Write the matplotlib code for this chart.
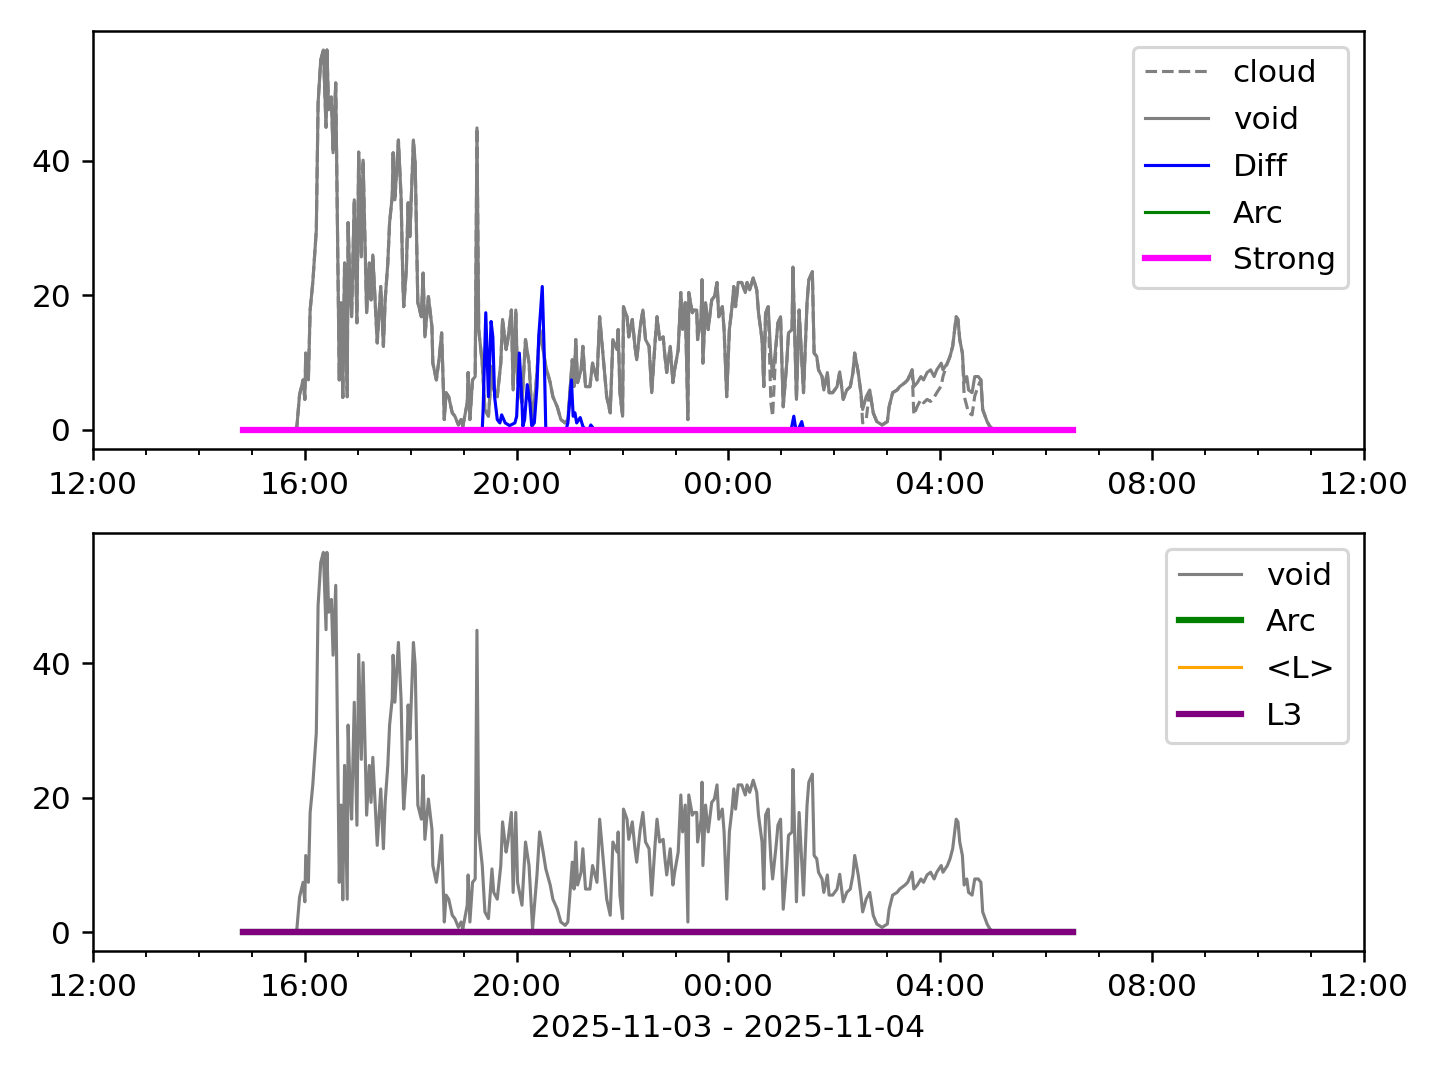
import pandas as pd
import matplotlib
matplotlib.use('Agg')
import matplotlib.pyplot as plt
import matplotlib.dates as mdates

# void signal (time of day, value); times before noon belong to the next day
void_t = ["14:50", "15:49", "15:51", "15:54", "15:58", "16:00", "16:01", "16:04", "16:06", "16:09",
          "16:13", "16:15", "16:18", "16:21", "16:24", "16:25", "16:27", "16:30", "16:32", "16:35",
          "16:36", "16:39", "16:41", "16:43", "16:45", "16:48", "16:49", "16:51", "16:53", "16:56",
          "16:59", "17:01", "17:04", "17:06", "17:10", "17:13", "17:15", "17:17", "17:22", "17:26",
          "17:29", "17:31", "17:34", "17:36", "17:39", "17:40", "17:42", "17:46", "17:49", "17:51",
          "17:52", "17:55", "17:57", "17:59", "18:03", "18:05", "18:08", "18:12", "18:14", "18:16",
          "18:20", "18:24", "18:25", "18:29", "18:32", "18:35", "18:38", "18:40", "18:43", "18:47",
          "18:50", "18:54", "18:57", "18:59", "19:04", "19:05", "19:07", "19:10", "19:13", "19:15",
          "19:17", "19:21", "19:24", "19:28", "19:32", "19:34", "19:38", "19:42", "19:44", "19:48",
          "19:50", "19:54", "19:56", "19:59", "20:01", "20:06", "20:10", "20:14", "20:18", "20:23",
          "20:26", "20:30", "20:33", "20:38", "20:41", "20:46", "20:50", "20:55", "20:58", "21:03",
          "21:05", "21:07", "21:09", "21:13", "21:15", "21:18", "21:23", "21:26", "21:31", "21:34",
          "21:38", "21:42", "21:46", "21:49", "21:54", "21:55", "21:57", "22:00", "22:01", "22:05",
          "22:07", "22:11", "22:14", "22:16", "22:20", "22:23", "22:26", "22:30", "22:33", "22:37",
          "22:39", "22:42", "22:46", "22:48", "22:50", "22:54", "22:57", "22:59", "23:03", "23:06",
          "23:08", "23:11", "23:14", "23:15", "23:19", "23:21", "23:24", "23:25", "23:29", "23:30",
          "23:31", "23:34", "23:37", "23:41", "23:44", "23:47", "23:49", "23:53", "23:55", "23:58",
          "00:01", "00:04", "00:06", "00:08", "00:11", "00:15", "00:19", "00:21", "00:24", "00:28",
          "00:32", "00:34", "00:38", "00:40", "00:42", "00:45", "00:48", "00:50", "00:54", "00:56",
          "00:59", "01:02", "01:06", "01:08", "01:12", "01:13", "01:17", "01:20", "01:23", "01:25",
          "01:29", "01:31", "01:35", "01:37", "01:40", "01:42", "01:46", "01:48", "01:52", "01:54",
          "01:58", "02:03", "02:06", "02:10", "02:14", "02:18", "02:21", "02:23", "02:27", "02:30",
          "02:32", "02:36", "02:40", "02:44", "02:48", "02:54", "03:00", "03:02", "03:06", "03:11",
          "03:14", "03:20", "03:23", "03:28", "03:30", "03:34", "03:38", "03:41", "03:45", "03:49",
          "03:53", "03:56", "04:01", "04:03", "04:08", "04:11", "04:14", "04:18", "04:20", "04:22",
          "04:25", "04:27", "04:30", "04:32", "04:36", "04:39", "04:43", "04:46", "04:48", "04:53",
          "04:56", "05:00", "06:30"]
void_v = [0, 0, 0.5, 5.2, 7.4, 4.5, 11.4, 7.4, 17.8, 21.9,
          29.7, 48.6, 55, 56.5, 45, 56.5, 47.6, 49.5, 41.2, 51.6,
          40.6, 7.4, 18.9, 4.8, 24.8, 4.9, 30.8, 21.9, 16.8, 34.2,
          15.9, 41.3, 25.7, 40.1, 17.4, 24.8, 19.3, 26, 12.9, 21.3,
          12.4, 19.3, 24.8, 30.8, 34.7, 41.2, 34.2, 43.1, 34.7, 22.3,
          18.3, 23.8, 33.8, 28.7, 43.1, 39.7, 18.9, 16.8, 23.3, 13.8,
          19.8, 15.3, 9.9, 7.4, 10.4, 14.4, 1.5, 5.5, 4.9, 2.5,
          2, 0.7, 1.5, 0.5, 4, 8.5, 1.5, 7.4, 7.9, 44.9,
          14.9, 9.9, 3, 2, 9.4, 5.9, 4.9, 9.9, 16.4, 11.9,
          13.4, 17.8, 5.9, 17.8, 7.4, 4, 13.4, 9.9, 0.5, 8.5,
          14.9, 11.9, 9.4, 7, 4.9, 3.4, 1.5, 1, 1.5, 10.4,
          6.4, 13.4, 7, 8.9, 12.4, 6.4, 6.4, 9.9, 7.4, 16.8,
          10.9, 4.9, 2.5, 13.4, 11.9, 14.9, 5.5, 2, 18.3, 16.8,
          13.8, 16.4, 12.4, 10.4, 15.3, 17.8, 13.4, 12.4, 5.5, 13.4,
          16.8, 13.4, 13.8, 10.9, 8.5, 12.4, 7, 8.9, 11.9, 20.4,
          14.9, 18.9, 1.5, 20.4, 17.4, 17.8, 17.8, 13.4, 16.8, 22.3,
          9.9, 18.9, 14.9, 19.3, 19.8, 21.9, 16.8, 18.3, 14.9, 4.9,
          14.9, 18.3, 21.3, 18.3, 21.9, 21.9, 20.4, 21.9, 20.8, 22.6,
          20.8, 17.4, 13.4, 6.4, 17.4, 18.3, 10.9, 7.9, 12.9, 15.9,
          16.8, 3.4, 9.9, 14.4, 14.9, 24.2, 4.5, 17.8, 10.4, 5.5,
          18.9, 22.3, 23.5, 11.4, 10.9, 8.9, 7.9, 5.9, 8.5, 5.5,
          5.5, 6.4, 8.6, 4.5, 5.9, 6.4, 8.5, 11.4, 8.5, 5.5,
          3, 4.9, 5.9, 2.5, 1.2, 0.7, 1.2, 3.4, 5.5, 5.9,
          6.4, 7, 7.4, 8.9, 6.4, 7, 7.9, 7.4, 8.5, 8.9,
          7.9, 8.9, 9.9, 8.9, 9.9, 10.9, 12.4, 16.8, 16.4, 13.4,
          11.4, 7, 7.9, 5.9, 5.5, 7.9, 7.9, 7.4, 3, 1.2,
          0.5, 0, 0]

# cloud follows void except at these times
cloud_diff_t = ["00:48", "00:50", "02:32", "02:36", "03:30", "03:34", "03:38", "03:41", "03:45",
                "03:49", "03:53", "03:56", "04:01", "04:03", "04:27", "04:30", "04:32", "04:36",
                "04:39", "04:43"]
cloud_diff_v = [4, 2, 1, 1.5, 2.2, 3.5, 4.5, 4, 4.5,
                4.2, 4.8, 5.5, 6.5, 7.9, 5, 3.5, 2.5, 2.2,
                5, 6.5]

diff_t = ["14:50", "19:21", "19:22", "19:25", "19:28", "19:31", "19:33", "19:35", "19:38", "19:41",
          "19:43", "19:47", "19:52", "19:58", "20:00", "20:03", "20:06", "20:07", "20:09", "20:12",
          "20:15", "20:17", "20:20", "20:23", "20:25", "20:29", "20:31", "20:33", "20:56", "20:58",
          "21:02", "21:04", "21:06", "21:08", "21:12", "21:15", "21:18", "21:22", "21:24", "21:28",
          "01:11", "01:14", "01:16", "01:19", "01:23", "01:25", "06:30"]
diff_v = [0, 0, 3, 17.4, 4.9, 16.1, 13.8, 4.9, 1.5, 1,
          2.2, 1, 0.6, 1, 2, 11.4, 4, 0.5, 1.5, 6.7,
          4, 0.6, 1, 6.4, 13.8, 21.3, 12.4, 0, 0, 1,
          7.4, 2, 2.5, 1, 1.8, 0.5, 0, 0, 0.7, 0,
          0, 2, 0.3, 0, 1.2, 0, 0]

flat_t = ["14:50", "06:30"]
arc_v = [0, 0]
strong_v = [0, 0]
lmean_v = [0, 0]
l3_v = [0, 0]


def to_dt(times):
    out = []
    for s in times:
        day = "2025-11-03" if int(s[:2]) >= 12 else "2025-11-04"
        out.append(pd.Timestamp(day + " " + s))
    return out


void_x = to_dt(void_t)
cloud_v = list(void_v)
for t, v in zip(cloud_diff_t, cloud_diff_v):
    cloud_v[void_t.index(t)] = v
diff_x = to_dt(diff_t)
flat_x = to_dt(flat_t)

fig, (ax1, ax2) = plt.subplots(2, 1, figsize=(6.4, 4.8), dpi=225)
fig.subplots_adjust(left=0.0646, right=0.9472, top=0.9713, bottom=0.1194, hspace=0.203)

ax1.plot(void_x, cloud_v, color='gray', linestyle='--', linewidth=1, label='cloud')
ax1.plot(void_x, void_v, color='gray', linewidth=1, label='void')
ax1.plot(diff_x, diff_v, color='blue', linewidth=1, label='Diff')
ax1.plot(flat_x, arc_v, color='green', linewidth=1, label='Arc')
ax1.plot(flat_x, strong_v, color='magenta', linewidth=2, label='Strong')
ax1.legend(loc='upper right', labelspacing=0.57)

ax2.plot(void_x, void_v, color='gray', linewidth=1, label='void')
ax2.plot(flat_x, arc_v, color='green', linewidth=2, label='Arc')
ax2.plot(flat_x, lmean_v, color='orange', linewidth=1, label='<L>')
ax2.plot(flat_x, l3_v, color='purple', linewidth=2, label='L3')
ax2.legend(loc='upper right', labelspacing=0.57)

for ax in (ax1, ax2):
    ax.set_xlim(pd.Timestamp("2025-11-03 12:00"), pd.Timestamp("2025-11-04 12:00"))
    ax.xaxis.set_major_locator(mdates.HourLocator(byhour=range(0, 24, 4)))
    ax.xaxis.set_minor_locator(mdates.HourLocator())
    ax.xaxis.set_major_formatter(mdates.DateFormatter('%H:%M'))

ax2.set_xlabel('2025-11-03 - 2025-11-04')

plt.savefig('out.png')
